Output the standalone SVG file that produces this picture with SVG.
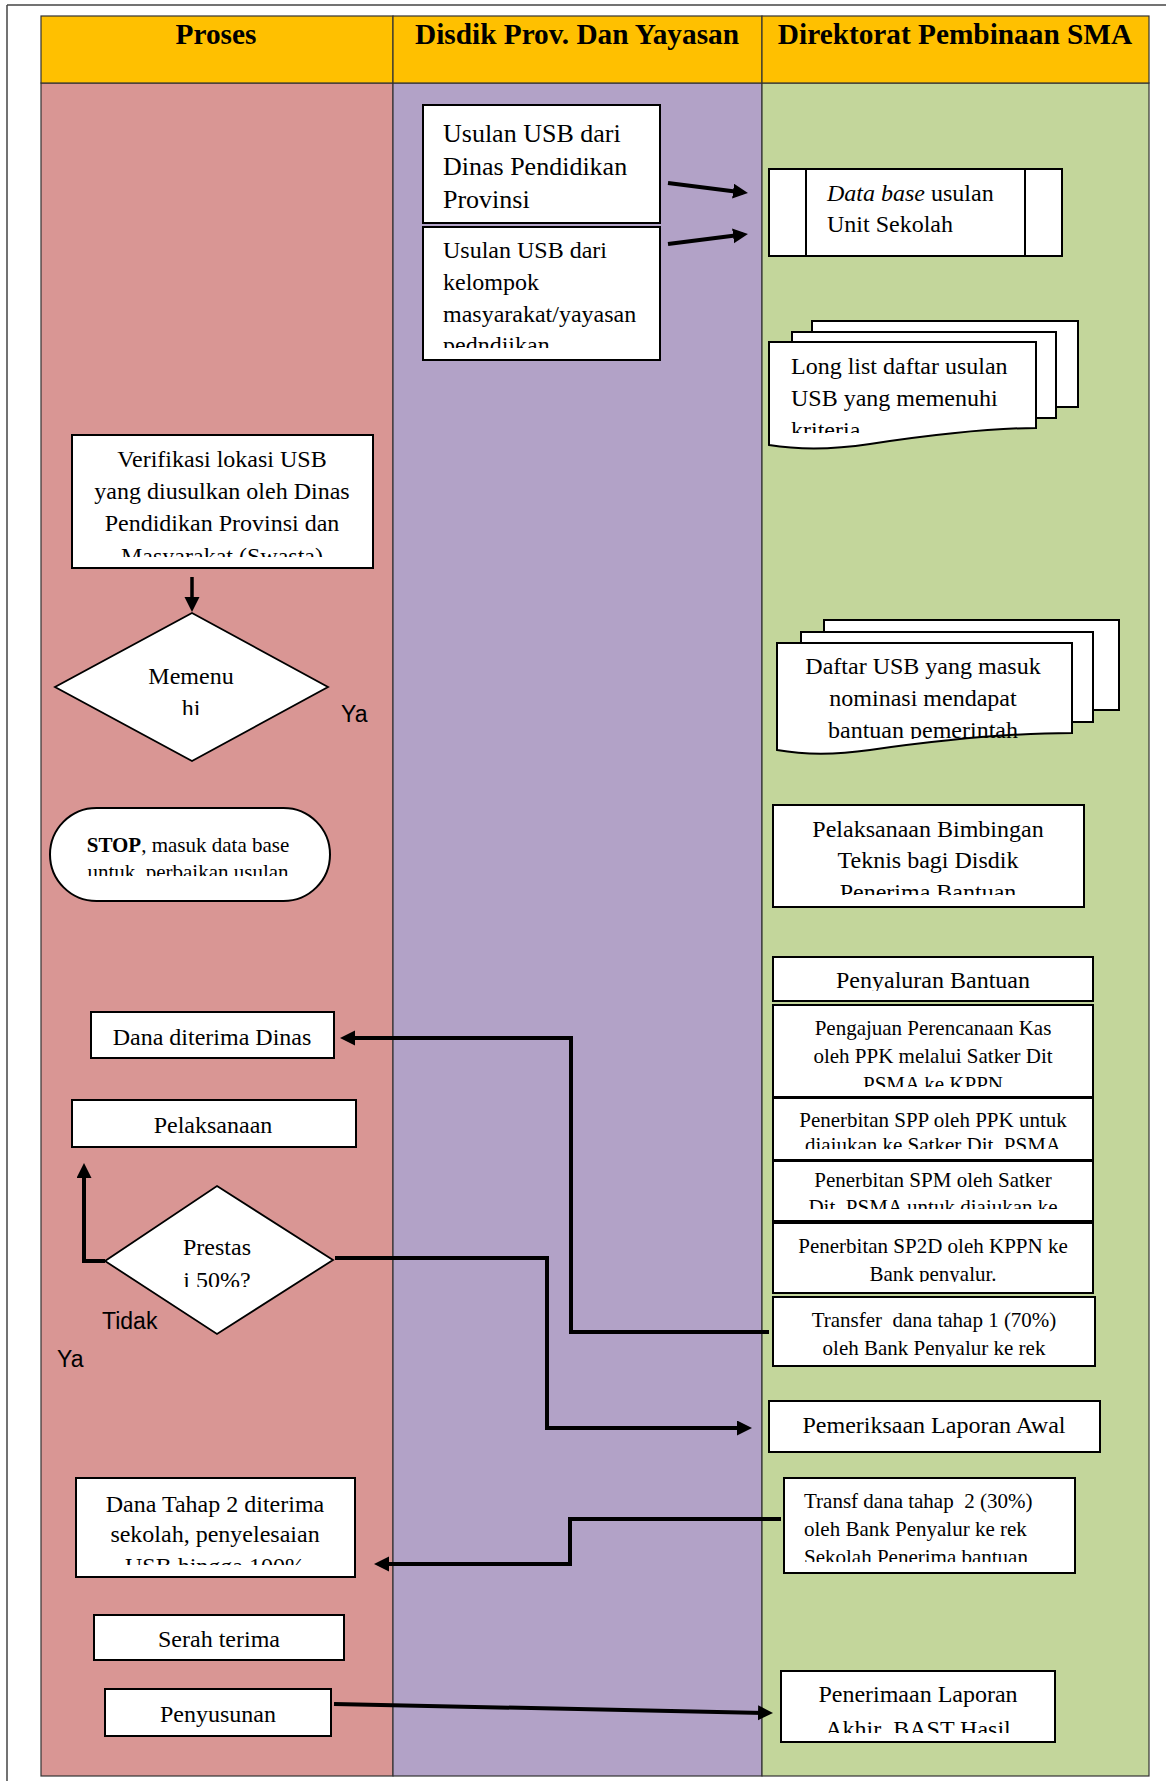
<svg xmlns="http://www.w3.org/2000/svg" width="1166" height="1781" viewBox="0 0 1166 1781">
<style>
.lane{stroke:#333;stroke-width:1.2}
.hdr{font-family:"Liberation Serif","Times New Roman",serif;font-weight:bold;font-size:29.3px;fill:#000;text-anchor:middle}
.box{fill:#fff;stroke:#000;stroke-width:2}
.t{font-family:"Liberation Serif","Times New Roman",serif;font-size:24px;fill:#000}
.s{font-size:21px}
.c{text-anchor:middle}
.lbl{font-family:"Liberation Sans",Arial,sans-serif;font-size:23px;fill:#000}
.con{fill:none;stroke:#000;stroke-width:4;marker-end:url(#ah)}
</style>
<defs>
<marker id="ah" markerUnits="userSpaceOnUse" markerWidth="16" markerHeight="16" refX="10" refY="7.5" orient="auto">
<path d="M0,0 L15,7.5 L0,15 Z" fill="#000"/>
</marker>
<clipPath id="cU2"><rect x="424" y="228" width="235" height="120"/></clipPath>
<clipPath id="cLL"><rect x="770" y="343" width="265" height="90"/></clipPath>
<clipPath id="cVer"><rect x="73" y="436" width="299" height="121"/></clipPath>
<clipPath id="cMem"><rect x="60" y="620" width="260" height="95"/></clipPath>
<clipPath id="cStop"><rect x="50" y="808" width="280" height="68"/></clipPath>
<clipPath id="cPre"><rect x="110" y="1190" width="220" height="97"/></clipPath>
<clipPath id="cDaf"><rect x="778" y="644" width="293" height="95"/></clipPath>
<clipPath id="cBim"><rect x="774" y="806" width="309" height="89"/></clipPath>
<clipPath id="cPny"><rect x="774" y="958" width="318" height="33"/></clipPath>
<clipPath id="cPeng"><rect x="774" y="1006" width="318" height="81"/></clipPath>
<clipPath id="cSPP"><rect x="774" y="1099" width="318" height="50"/></clipPath>
<clipPath id="cSPM"><rect x="774" y="1162" width="318" height="47"/></clipPath>
<clipPath id="cSP2D"><rect x="774" y="1224" width="318" height="58"/></clipPath>
<clipPath id="cTr1"><rect x="774" y="1298" width="320" height="59"/></clipPath>
<clipPath id="cTr2"><rect x="785" y="1479" width="289" height="83"/></clipPath>
<clipPath id="cDT2"><rect x="77" y="1479" width="277" height="86"/></clipPath>
<clipPath id="cPen"><rect x="782" y="1672" width="272" height="61"/></clipPath>
</defs>

<g id="frame">
<line x1="7" y1="5" x2="1166" y2="5" stroke="#444" stroke-width="1.5"/>
<line x1="7" y1="5" x2="7" y2="1781" stroke="#444" stroke-width="1.5"/>
</g>

<g id="lanes">
<rect class="lane" x="41" y="83" width="352" height="1693" fill="#D99694"/>
<rect class="lane" x="393" y="83" width="369" height="1693" fill="#B2A2C7"/>
<rect class="lane" x="762" y="83" width="387" height="1693" fill="#C3D69B"/>
<rect class="lane" x="41" y="16" width="352" height="67" fill="#FFC000"/>
<rect class="lane" x="393" y="16" width="369" height="67" fill="#FFC000"/>
<rect class="lane" x="762" y="16" width="387" height="67" fill="#FFC000"/>
<text class="hdr" x="216" y="44">Proses</text>
<text class="hdr" x="577" y="44">Disdik Prov. Dan Yayasan</text>
<text class="hdr" x="955" y="44">Direktorat Pembinaan SMA</text>
</g>

<g id="connectors">
<path class="con" d="M668,183 L743,192.4"/>
<path class="con" d="M668,244 L743,234.6"/>
<path class="con" style="stroke-width:3.5" d="M192,577 L192,607"/>
<path class="con" d="M769,1332 H571 V1038 H345"/>
<path class="con" d="M105,1261 H84 V1168"/>
<path class="con" d="M335,1258 H547 V1428 H747"/>
<path class="con" d="M781,1519 H570 V1564 H379"/>
<path class="con" d="M334,1704 L768,1713"/>
</g>

<g id="usulan-dinas">
<rect class="box" x="423" y="105" width="237" height="118"/>
<text class="t" style="font-size:26px" x="443" y="142">Usulan USB dari</text>
<text class="t" style="font-size:26px" x="443" y="175">Dinas Pendidikan</text>
<text class="t" style="font-size:26px" x="443" y="208">Provinsi</text>
</g>

<g id="usulan-masyarakat">
<rect class="box" x="423" y="227" width="237" height="133"/>
<g clip-path="url(#cU2)">
<text class="t" x="443" y="258">Usulan USB dari</text>
<text class="t" x="443" y="290">kelompok</text>
<text class="t" x="443" y="322">masyarakat/yayasan</text>
<text class="t" x="443" y="353">pedndiikan</text>
</g>
</g>

<g id="database">
<rect class="box" x="769" y="169" width="293" height="87"/>
<line x1="806" y1="169" x2="806" y2="256" stroke="#000" stroke-width="2"/>
<line x1="1025" y1="169" x2="1025" y2="256" stroke="#000" stroke-width="2"/>
<text class="t" x="827" y="201"><tspan font-style="italic">Data base</tspan> usulan</text>
<text class="t" x="827" y="232">Unit Sekolah</text>
</g>

<g id="longlist">
<rect class="box" x="812" y="321" width="266" height="86"/>
<rect class="box" x="792" y="332" width="264" height="86"/>
<path class="box" d="M769,342 H1036 V428 C985,428 930,435 870,444 C830,450 800,450 769,445 Z"/>
<g clip-path="url(#cLL)">
<text class="t" x="791" y="374">Long list daftar usulan</text>
<text class="t" x="791" y="406">USB yang memenuhi</text>
<text class="t" x="791" y="438">kriteria</text>
</g>
</g>

<g id="verifikasi">
<rect class="box" x="72" y="435" width="301" height="133"/>
<g clip-path="url(#cVer)">
<text class="t c" x="222" y="467">Verifikasi lokasi USB</text>
<text class="t c" x="222" y="499">yang diusulkan oleh Dinas</text>
<text class="t c" x="222" y="531">Pendidikan Provinsi dan</text>
<text class="t c" x="222" y="564">Masyarakat (Swasta)</text>
</g>
</g>

<g id="memenuhi">
<polygon class="box" style="stroke-width:1.8" points="192,613 328,687 192,761 55,687"/>
<g clip-path="url(#cMem)">
<text class="t c" x="191" y="684">Memenu</text>
<text class="t c" x="191" y="716">hi</text>
</g>
<text class="lbl" x="341" y="722">Ya</text>
</g>

<g id="stop">
<rect class="box" x="50" y="808" width="280" height="93" rx="46.5" ry="46.5"/>
<g clip-path="url(#cStop)">
<text class="t s c" x="188" y="852"><tspan font-weight="bold">STOP</tspan>, masuk data base</text>
<text class="t s c" x="188" y="879" xml:space="preserve">untuk  perbaikan usulan</text>
</g>
</g>

<g id="dana-dinas">
<rect class="box" x="91" y="1012" width="243" height="46"/>
<text class="t c" x="212" y="1045">Dana diterima Dinas</text>
</g>

<g id="pelaksanaan">
<rect class="box" x="72" y="1100" width="284" height="47"/>
<text class="t c" x="213" y="1133">Pelaksanaan</text>
</g>

<g id="prestasi">
<polygon class="box" style="stroke-width:1.8" points="217,1186 333,1260 217,1334 105,1261"/>
<g clip-path="url(#cPre)">
<text class="t c" x="217" y="1255">Prestas</text>
<text class="t c" x="217" y="1288">i 50%?</text>
</g>
<text class="lbl" x="102" y="1329">Tidak</text>
<text class="lbl" x="57" y="1367">Ya</text>
</g>

<g id="daftar-usb">
<rect class="box" x="824" y="620" width="295" height="90"/>
<rect class="box" x="801" y="632" width="292" height="90"/>
<path class="box" d="M777,643 H1072 V733 C1005,733 940,740 870,750 C835,755 805,755 777,750 Z"/>
<g clip-path="url(#cDaf)">
<text class="t c" x="923" y="674">Daftar USB yang masuk</text>
<text class="t c" x="923" y="706">nominasi mendapat</text>
<text class="t c" x="923" y="738">bantuan pemerintah</text>
</g>
</g>

<g id="bimtek">
<rect class="box" x="773" y="805" width="311" height="102"/>
<g clip-path="url(#cBim)">
<text class="t c" x="928" y="837">Pelaksanaan Bimbingan</text>
<text class="t c" x="928" y="868">Teknis bagi Disdik</text>
<text class="t c" x="928" y="900">Penerima Bantuan</text>
</g>
</g>

<g id="penyaluran">
<rect class="box" x="773" y="957" width="320" height="44"/>
<g clip-path="url(#cPny)">
<text class="t c" x="933" y="988">Penyaluran Bantuan</text>
</g>
</g>

<g id="pengajuan">
<rect class="box" x="773" y="1005" width="320" height="92"/>
<g clip-path="url(#cPeng)">
<text class="t s c" x="933" y="1035">Pengajuan Perencanaan Kas</text>
<text class="t s c" x="933" y="1063">oleh PPK melalui Satker Dit</text>
<text class="t s c" x="933" y="1091">PSMA ke KPPN</text>
</g>
</g>

<g id="spp">
<rect class="box" x="773" y="1098" width="320" height="62"/>
<g clip-path="url(#cSPP)">
<text class="t s c" x="933" y="1127">Penerbitan SPP oleh PPK untuk</text>
<text class="t s c" x="933" y="1152">diajukan ke Satker Dit. PSMA</text>
</g>
</g>

<g id="spm">
<rect class="box" x="773" y="1161" width="320" height="60"/>
<g clip-path="url(#cSPM)">
<text class="t s c" x="933" y="1187">Penerbitan SPM oleh Satker</text>
<text class="t s c" x="933" y="1214">Dit. PSMA untuk diajukan ke</text>
</g>
</g>

<g id="sp2d">
<rect class="box" x="773" y="1223" width="320" height="70"/>
<g clip-path="url(#cSP2D)">
<text class="t s c" x="933" y="1253">Penerbitan SP2D oleh KPPN ke</text>
<text class="t s c" x="933" y="1281">Bank penyalur.</text>
</g>
</g>

<g id="transfer1">
<rect class="box" x="773" y="1297" width="322" height="69"/>
<g clip-path="url(#cTr1)">
<text class="t s c" x="934" y="1327" xml:space="preserve">Transfer  dana tahap 1 (70%)</text>
<text class="t s c" x="934" y="1355">oleh Bank Penyalur ke rek</text>
</g>
</g>

<g id="pemeriksaan">
<rect class="box" x="769" y="1401" width="331" height="51"/>
<text class="t c" x="934" y="1433">Pemeriksaan Laporan Awal</text>
</g>

<g id="transfer2">
<rect class="box" x="784" y="1478" width="291" height="95"/>
<g clip-path="url(#cTr2)">
<text class="t s" x="804" y="1508" xml:space="preserve">Transf dana tahap  2 (30%)</text>
<text class="t s" x="804" y="1536">oleh Bank Penyalur ke rek</text>
<text class="t s" x="804" y="1564">Sekolah Penerima bantuan</text>
</g>
</g>

<g id="dana-tahap2">
<rect class="box" x="76" y="1478" width="279" height="99"/>
<g clip-path="url(#cDT2)">
<text class="t c" x="215" y="1512">Dana Tahap 2 diterima</text>
<text class="t c" x="215" y="1542">sekolah, penyelesaian</text>
<text class="t c" x="215" y="1574">USB hingga 100%</text>
</g>
</g>

<g id="serah-terima">
<rect class="box" x="94" y="1615" width="250" height="45"/>
<text class="t c" x="219" y="1647">Serah terima</text>
</g>

<g id="penyusunan">
<rect class="box" x="105" y="1689" width="226" height="47"/>
<text class="t c" x="218" y="1722">Penyusunan</text>
</g>

<g id="penerimaan">
<rect class="box" x="781" y="1671" width="274" height="71"/>
<g clip-path="url(#cPen)">
<text class="t c" x="918" y="1702">Penerimaan Laporan</text>
<text class="t c" x="918" y="1737" xml:space="preserve">Akhir  BAST Hasil</text>
</g>
</g>
</svg>
